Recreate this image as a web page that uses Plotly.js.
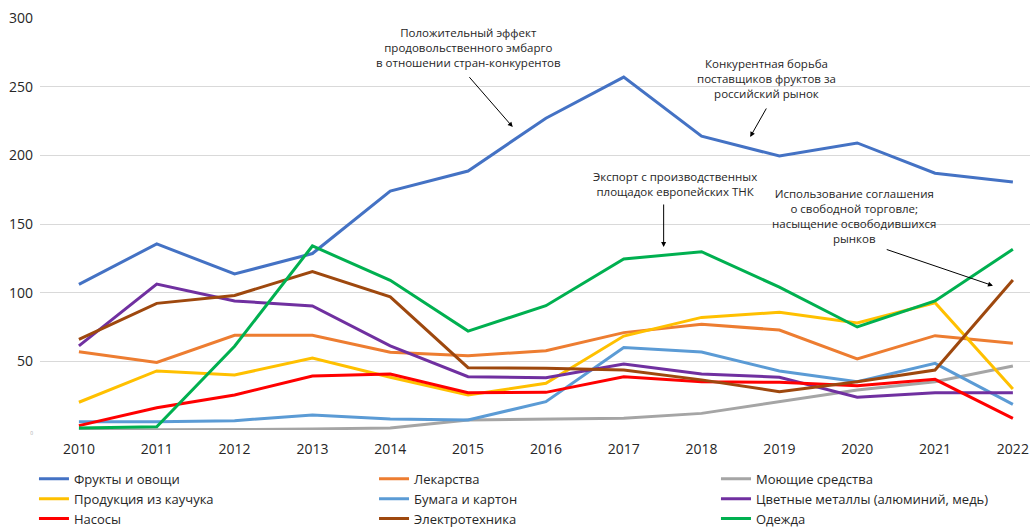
<!DOCTYPE html>
<html>
<head>
<meta charset="utf-8">
<script src="https://cdn.plot.ly/plotly-3.0.1.min.js"></script>
<style>html,body{margin:0;padding:0;background:#fff;}#chart{width:1030px;height:528px;}</style>
</head>
<body>
<div id="chart"></div>
<script>
const years = [2010, 2011, 2012, 2013, 2014, 2015, 2016, 2017, 2018, 2019, 2020, 2021, 2022];

const fruits    = [106, 135.5, 113.6, 128.5, 174, 188.6, 227, 257, 214, 199.5, 209, 187, 180.6];
const medicine  = [57, 49.2, 69, 69, 56.6, 54.1, 57.7, 70.9, 77, 72.8, 51.7, 68.7, 63.1];
const detergent = [0, 0, 0.3, 0.8, 1.5, 7.3, 8, 8.5, 12.1, 20.6, 29.1, 35.2, 46.6];
const rubber    = [20.2, 43, 40, 52.4, 38.4, 25.5, 34, 68.4, 82, 85.7, 78, 92.7, 29.9];
const paper     = [6, 6, 6.8, 11, 8, 7.3, 20.6, 60, 56.8, 43, 35.2, 48.5, 18.7];
const metals    = [61.2, 106.3, 94, 90.3, 61.2, 38.8, 38.1, 48, 40.8, 38.4, 23.8, 27.2, 27.2];
const pumps     = [3.2, 16.2, 25.5, 39.3, 40.8, 27.2, 27.4, 38.8, 35.2, 34.7, 32.3, 36.9, 8.5];
const electro   = [66, 92.2, 98, 115.3, 97, 45.4, 45, 43.7, 36.5, 27.9, 35.2, 43.7, 109.2];
const clothes   = [1.5, 2.4, 61, 134, 109, 72, 90.5, 124.5, 129.8, 104, 75, 94, 131.6];

const seriesNames = ['Фрукты и овощи', 'Лекарства', 'Моющие средства',
  'Продукция из каучука', 'Бумага и картон', 'Цветные металлы (алюминий, медь)',
  'Насосы', 'Электротехника', 'Одежда'];
const seriesData = [fruits, medicine, detergent, rubber, paper, metals, pumps, electro, clothes];
const seriesColors = ['#4472C4', '#ED7D31', '#A5A5A5', '#FFC000', '#5B9BD5', '#7030A0', '#FF0000', '#9E480E', '#00B050'];
// legend column of each series (row-major 3-column legend)
const legendIds = ['legend', 'legend2', 'legend3', 'legend', 'legend2', 'legend3', 'legend', 'legend2', 'legend3'];

const yTickVals = [0, 50, 100, 150, 200, 250, 300];
const yTickText = ['<span style="font-size:5px;fill:#aaaaaa">0</span>', '50', '100', '150', '200', '250', '300'];

const noteTexts = [
  'Положительный эффект<br>продовольственного эмбарго<br>в отношении стран-конкурентов',
  'Конкурентная борьба<br>поставщиков фруктов за<br>российский рынок',
  'Экспорт с производственных<br>площадок европейских ТНК',
  'Использование соглашения<br>о свободной торговле;<br>насыщение освободившихся<br>рынков'
];
const notePos = [[2015.0, 278.2], [2018.83, 256.3], [2017.66, 178.8], [2019.97, 155.8]];
// arrows: [headX, headY, tailX, tailY]
const arrows = [
  [2015.574, 220.6, 2015.0, 258.0],
  [2018.625, 213.4, 2018.843, 235.2],
  [2017.513, 133.3, 2017.513, 165.3],
  [2021.744, 105.1, 2020.36, 131.8]
];

const FONT = 'Open Sans, Noto Sans, sans-serif';

const traces = seriesData.map((d, i) => ({
  x: years, y: d, type: 'scatter', mode: 'lines', name: seriesNames[i],
  legend: legendIds[i],
  line: {color: seriesColors[i], width: 3}
}));

const annotations = [];
noteTexts.forEach((t, i) => {
  annotations.push({x: notePos[i][0], y: notePos[i][1], xref: 'x', yref: 'y', text: t,
    showarrow: false, xanchor: 'center', yanchor: 'middle', align: 'center',
    font: {family: FONT, size: 11.5, color: '#262626'}});
});
arrows.forEach(a => {
  annotations.push({x: a[0], y: a[1], ax: a[2], ay: a[3], xref: 'x', yref: 'y', axref: 'x', ayref: 'y',
    text: '', showarrow: true, arrowhead: 2, arrowsize: 1, arrowwidth: 1, arrowcolor: '#000'});
});

function legendAt(xf) {
  return {orientation: 'v', xref: 'paper', yref: 'container',
    x: xf, xanchor: 'left', y: 0.1215, yanchor: 'top', tracegroupgap: 0,
    font: {family: FONT, size: 13, color: '#262626'}, bgcolor: 'rgba(0,0,0,0)'};
}

const layout = {
  width: 1030, height: 528,
  margin: {l: 40, r: 0, t: 18, b: 98},
  paper_bgcolor: '#fff', plot_bgcolor: '#fff',
  showlegend: true,
  xaxis: {range: [2009.5, 2022.22], tickvals: years, ticktext: years.map(String),
    showgrid: false, zeroline: false, showline: false, ticks: '',
    ticklabelstandoff: 9,
    tickfont: {family: FONT, size: 14, color: '#262626'}, fixedrange: true},
  yaxis: {range: [0, 300], tickvals: yTickVals, ticktext: yTickText,
    showgrid: true, gridcolor: '#d9d9d9', gridwidth: 1, zeroline: false, showline: false, ticks: '',
    ticklabelstandoff: 6,
    tickfont: {family: FONT, size: 14, color: '#262626'}, fixedrange: true},
  legend: legendAt(-0.0061),
  legend2: legendAt(0.3374),
  legend3: legendAt(0.6828),
  annotations: annotations
};

Plotly.newPlot('chart', traces, layout, {displayModeBar: false, staticPlot: true});
</script>
</body>
</html>
